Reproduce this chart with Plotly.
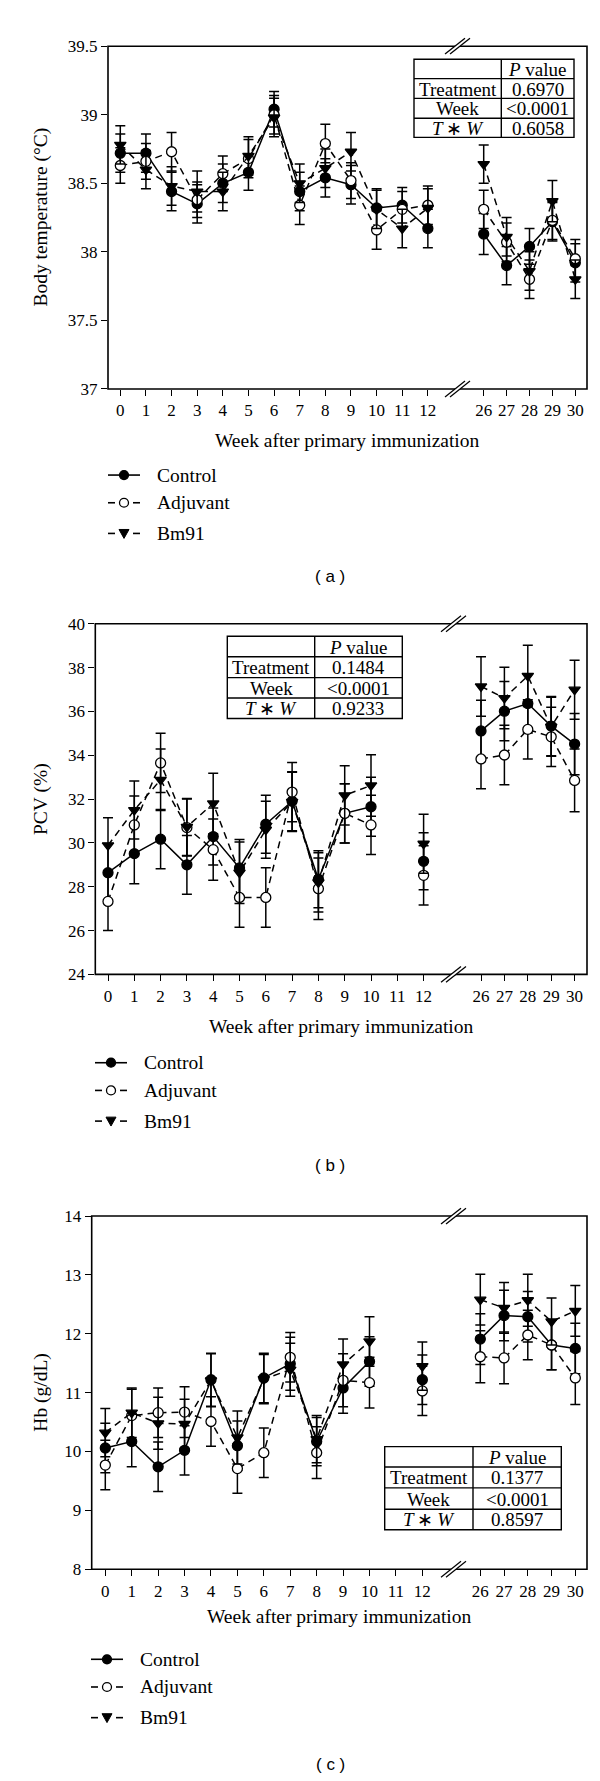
import plotly.graph_objects as go

W, H = 600, 1781
SERIF = 'Liberation Serif'
SANS = 'Liberation Sans'

# 数据：周次（0-12 周 + 26-30 周，中间断轴）
WEEKS = [0, 1, 2, 3, 4, 5, 6, 7, 8, 9, 10, 11, 12, 26, 27, 28, 29, 30]
X_TICKS_EARLY = [0, 1, 2, 3, 4, 5, 6, 7, 8, 9, 10, 11, 12]
X_TICKS_LATE = [26, 27, 28, 29, 30]

# (a) 体温
TEMP_CONTROL = [38.72, 38.72, 38.44, 38.35, 38.50, 38.58, 39.04, 38.44, 38.54, 38.49, 38.32, 38.34, 38.17,
                38.13, 37.90, 38.04, 38.22, 37.92]
TEMP_ADJUVANT = [38.63, 38.66, 38.73, 38.38, 38.57, 38.68, 39.00, 38.34, 38.79, 38.52, 38.16, 38.31, 38.34,
                 38.31, 38.07, 37.80, 38.23, 37.95]
TEMP_BM91 = [38.78, 38.60, 38.48, 38.44, 38.44, 38.70, 38.98, 38.50, 38.61, 38.73, 38.31, 38.17, 38.32,
             38.64, 38.11, 37.86, 38.37, 37.80]
TEMP_CONTROL_SE = [0.14, 0.14, 0.14, 0.14, 0.14, 0.13, 0.13, 0.14, 0.14, 0.14, 0.14, 0.13, 0.14,
                   0.15, 0.14, 0.13, 0.14, 0.14]
TEMP_ADJUVANT_SE = [0.13, 0.13, 0.14, 0.13, 0.13, 0.14, 0.14, 0.14, 0.14, 0.13, 0.14, 0.13, 0.14,
                    0.14, 0.14, 0.14, 0.14, 0.14]
TEMP_BM91_SE = [0.14, 0.14, 0.14, 0.15, 0.14, 0.14, 0.14, 0.14, 0.14, 0.14, 0.14, 0.14, 0.14,
                0.14, 0.14, 0.14, 0.15, 0.14]

# (b) PCV
PCV_CONTROL = [28.64, 29.51, 30.17, 29.00, 30.29, 28.86, 30.85, 31.90, 28.34, 31.35, 31.65, None, 29.16,
               35.11, 36.01, 36.36, 35.33, 34.51]
PCV_ADJUVANT = [27.33, 30.82, 33.65, 30.70, 29.69, 27.51, 27.51, 32.32, 27.91, 31.35, 30.82, None, 28.52,
                33.83, 34.01, 35.18, 34.84, 32.85]
PCV_BM91 = [29.89, 31.50, 32.88, 30.73, 31.80, 28.64, 30.60, 31.87, 28.20, 32.17, 32.62, None, 29.96,
            37.14, 36.61, 37.62, 35.30, 36.99]
PCV_CONTROL_SE = [1.30, 1.37, 1.35, 1.34, 1.30, 1.30, 1.32, 1.35, 1.30, 1.35, 1.35, None, 1.30,
                  1.40, 1.35, 1.35, 1.35, 1.40]
PCV_ADJUVANT_SE = [1.33, 1.32, 1.35, 1.30, 1.40, 1.36, 1.36, 1.35, 1.40, 1.35, 1.35, None, 1.35,
                   1.36, 1.36, 1.35, 1.35, 1.43]
PCV_BM91_SE = [1.26, 1.32, 1.40, 1.30, 1.38, 1.40, 1.30, 1.35, 1.35, 1.35, 1.40, None, 1.35,
               1.36, 1.40, 1.40, 1.35, 1.35]

# (c) Hb
HB_CONTROL = [10.06, 10.17, 9.74, 10.02, 11.22, 10.10, 11.25, 11.49, 10.17, 11.08, 11.53, None, 11.22,
              11.91, 12.31, 12.29, 11.81, 11.75]
HB_ADJUVANT = [9.77, 10.61, 10.66, 10.67, 10.51, 9.71, 9.98, 11.60, 9.98, 11.21, 11.17, None, 11.03,
               11.61, 11.59, 11.98, 11.81, 11.25]
HB_BM91 = [10.32, 10.66, 10.48, 10.47, 11.21, 10.24, 11.23, 11.39, 10.21, 11.48, 11.87, None, 11.45,
           12.58, 12.44, 12.57, 12.21, 12.39]
HB_CONTROL_SE = [0.42, 0.43, 0.42, 0.42, 0.45, 0.42, 0.42, 0.45, 0.41, 0.43, 0.42, None, 0.42,
                 0.43, 0.43, 0.43, 0.42, 0.43]
HB_ADJUVANT_SE = [0.42, 0.45, 0.42, 0.43, 0.42, 0.42, 0.42, 0.42, 0.44, 0.45, 0.43, None, 0.42,
                  0.44, 0.44, 0.42, 0.42, 0.45]
HB_BM91_SE = [0.41, 0.42, 0.44, 0.42, 0.45, 0.45, 0.42, 0.45, 0.40, 0.43, 0.42, None, 0.41,
              0.43, 0.43, 0.44, 0.40, 0.43]

TEMP_Y_TICKS = [37, 37.5, 38, 38.5, 39, 39.5]
TEMP_Y_LABELS = ['37', '37.5', '38', '38.5', '39', '39.5']
PCV_Y_TICKS = [24, 26, 28, 30, 32, 34, 36, 38, 40]
HB_Y_TICKS = [8, 9, 10, 11, 12, 13, 14]

TABLE_ROWS = ['Treatment', 'Week', '<i>T</i>\u2009∗\u2009<i>W</i>']
TEMP_P = ['0.6970', '&lt;0.0001', '0.6058']
PCV_P = ['0.1484', '&lt;0.0001', '0.9233']
HB_P = ['0.1377', '&lt;0.0001', '0.8597']

GROUPS = ['Control', 'Adjuvant', 'Bm91']
DASH = '7px,5px'
STYLES = {
    'Control': dict(dash='solid', symbol='circle', fill='black'),
    'Adjuvant': dict(dash=DASH, symbol='circle', fill='white'),
    'Bm91': dict(dash=DASH, symbol='triangle-down', fill='black'),
}


def px_x(p):
    return p / W


def px_y(p):
    return 1 - p / H


def axis_range(a, b, v0, p0, step):
    return [v0 + (a - p0) / step, v0 + (b - p0) / step]


def paper_text(text, x, y, size, family=SERIF, xanchor='center', angle=0):
    return dict(text=text, x=px_x(x), y=px_y(y), xref='paper', yref='paper', showarrow=False,
                xanchor=xanchor, yanchor='middle', textangle=angle,
                font=dict(family=family, size=size, color='black'))


def paper_line(x0, y0, x1, y1, width=1.3):
    return dict(type='line', xref='paper', yref='paper', x0=px_x(x0), y0=px_y(y0),
                x1=px_x(x1), y1=px_y(y1), line=dict(color='black', width=width))


# 版面：每个子图的像素位置
PANELS = [
    dict(tag='( a )', ytitle='Body temperature (°C)',
         vals=[TEMP_CONTROL, TEMP_ADJUVANT, TEMP_BM91], se=[TEMP_CONTROL_SE, TEMP_ADJUVANT_SE, TEMP_BM91_SE],
         yrange=[37, 39.5], yticks=TEMP_Y_TICKS, ylabels=TEMP_Y_LABELS, pvals=TEMP_P,
         left=100, right=579, top=29.5, bottom=376, brk=449, early=(112.3, 25.63), late=(475.7, 22.9),
         table=(406, 493.3, 566, [42.7, 62.3, 82.3, 102.3, 121.7]),
         legend=(100, 463), xtitle_y=428, tag_y=566),
    dict(tag='( b )', ytitle='PCV (%)',
         vals=[PCV_CONTROL, PCV_ADJUVANT, PCV_BM91], se=[PCV_CONTROL_SE, PCV_ADJUVANT_SE, PCV_BM91_SE],
         yrange=[24, 40], yticks=PCV_Y_TICKS, ylabels=[str(v) for v in PCV_Y_TICKS], pvals=PCV_P,
         left=87.3, right=579, top=613.3, bottom=967.7, brk=445, early=(100, 26.3), late=(473, 23.4),
         table=(219.3, 306.7, 394.3, [626, 646.7, 667.7, 688.3, 709]),
         legend=(87, 1057), xtitle_y=1020, tag_y=1161),
    dict(tag='( c )', ytitle='Hb (g/dL)',
         vals=[HB_CONTROL, HB_ADJUVANT, HB_BM91], se=[HB_CONTROL_SE, HB_ADJUVANT_SE, HB_BM91_SE],
         yrange=[8, 14], yticks=HB_Y_TICKS, ylabels=[str(v) for v in HB_Y_TICKS], pvals=HB_P,
         left=83.7, right=579, top=1212, bottom=1569, brk=445, early=(97.3, 26.42), late=(472.3, 23.75),
         table=(376.7, 465, 553.3, [1445, 1465.7, 1486.7, 1508.3, 1529]),
         legend=(83, 1660), xtitle_y=1617, tag_y=1766),
]
LEGEND_STEPS = [0, 28, 59]

fig = go.Figure()
layout = {}
shapes = []
annotations = []

early_idx = [k for k, w in enumerate(WEEKS) if w <= 12]
late_idx = [k for k, w in enumerate(WEEKS) if w > 12]

for i, p in enumerate(PANELS):
    ny = i + 1
    nxe, nxl = 2 * i + 1, 2 * i + 2
    ya = 'y' if ny == 1 else f'y{ny}'
    xe = 'x' if nxe == 1 else f'x{nxe}'
    xl = f'x{nxl}'

    # 曲线
    for g, vals, se in zip(GROUPS, p['vals'], p['se']):
        st = STYLES[g]
        for idx, xa in ((early_idx, xe), (late_idx, xl)):
            fig.add_trace(go.Scatter(
                x=[WEEKS[k] for k in idx], y=[vals[k] for k in idx],
                error_y=dict(type='data', array=[se[k] if se[k] is not None else 0 for k in idx],
                             color='black', thickness=1.5, width=5),
                mode='lines+markers', name=g, showlegend=False,
                line=dict(color='black', width=1.5, dash=st['dash']),
                marker=dict(symbol=st['symbol'], size=10, color=st['fill'],
                            line=dict(color='black', width=1.3)),
                connectgaps=False, xaxis=xa, yaxis=ya, hoverinfo='skip',
            ))

    # 坐标轴
    common = dict(showgrid=False, zeroline=False, showline=False, ticks='outside', ticklen=6,
                  tickwidth=1.4, tickcolor='black', tickfont=dict(family=SERIF, size=17, color='black'),
                  fixedrange=True)
    layout['yaxis' if ny == 1 else f'yaxis{ny}'] = dict(
        domain=[px_y(p['bottom']), px_y(p['top'])], range=p['yrange'],
        tickvals=p['yticks'], ticktext=p['ylabels'], anchor=xe, **common)
    layout['xaxis' if nxe == 1 else f'xaxis{nxe}'] = dict(
        domain=[px_x(p['left']), px_x(p['brk'] - 2)],
        range=axis_range(p['left'], p['brk'] - 2, 0, *p['early']),
        tickvals=X_TICKS_EARLY, anchor=ya, **common)
    layout[f'xaxis{nxl}'] = dict(
        domain=[px_x(p['brk'] + 2), px_x(p['right'])],
        range=axis_range(p['brk'] + 2, p['right'], 26, *p['late']),
        tickvals=X_TICKS_LATE, anchor=ya, **common)

    # 外框 + 断轴符号
    shapes.append(dict(type='rect', xref='paper', yref='paper',
                       x0=px_x(p['left']), x1=px_x(p['right']), y0=px_y(p['bottom']), y1=px_y(p['top']),
                       line=dict(color='black', width=1.6)))
    b = p['brk']
    for yy in (p['top'], p['bottom']):
        shapes.append(dict(type='path', xref='paper', yref='paper',
                           path=(f"M {px_x(b - 12)},{px_y(yy + 8)} L {px_x(b + 8)},{px_y(yy - 8)} "
                                 f"L {px_x(b + 13)},{px_y(yy - 8)} L {px_x(b - 7)},{px_y(yy + 8)} Z"),
                           fillcolor='white', line=dict(width=0)))
        for off in (0, 5):
            shapes.append(paper_line(b - 12 + off, yy + 8, b + 8 + off, yy - 8))

    # P 值表
    tl, td, tr, rows = p['table']
    shapes.append(dict(type='rect', xref='paper', yref='paper',
                       x0=px_x(tl), x1=px_x(tr), y0=px_y(rows[-1]), y1=px_y(rows[0]),
                       line=dict(color='black', width=1.4)))
    for ry in rows[1:-1]:
        shapes.append(paper_line(tl, ry, tr, ry, width=1.4))
    shapes.append(paper_line(td, rows[0], td, rows[-1], width=1.4))
    cells = [('', '<i>P</i> value')] + list(zip(TABLE_ROWS, p['pvals']))
    for r, (c1, c2) in enumerate(cells):
        yc = (rows[r] + rows[r + 1]) / 2 + 0.5
        if c1:
            annotations.append(paper_text(c1, (tl + td) / 2, yc, 19))
        annotations.append(paper_text(c2, (td + tr) / 2, yc, 19))

    # 标题与标签
    annotations.append(paper_text(p['ytitle'], 33, (p['top'] + p['bottom']) / 2, 19.5, angle=-90))
    annotations.append(paper_text('Week after primary immunization', (p['left'] + p['right']) / 2,
                                  p['xtitle_y'], 19.5))
    annotations.append(paper_text(p['tag'], 322, p['tag_y'], 17, family=SANS))

    # 图例（手绘）
    lx, ly0 = p['legend']
    cx = lx + 16
    for g, step in zip(GROUPS, LEGEND_STEPS):
        ly = ly0 + step
        st = STYLES[g]
        if st['dash'] == 'solid':
            shapes.append(paper_line(lx, ly, lx + 32, ly, width=1.6))
        else:
            shapes.append(paper_line(lx, ly, lx + 7, ly, width=1.6))
            shapes.append(paper_line(lx + 25, ly, lx + 32, ly, width=1.6))
        if st['symbol'] == 'circle':
            shapes.append(dict(type='circle', xref='paper', yref='paper',
                               x0=px_x(cx - 4.5), x1=px_x(cx + 4.5), y0=px_y(ly + 4.5), y1=px_y(ly - 4.5),
                               fillcolor=st['fill'], line=dict(color='black', width=1.3)))
        else:
            shapes.append(dict(type='path', xref='paper', yref='paper',
                               path=(f"M {px_x(cx - 5)},{px_y(ly - 4)} L {px_x(cx + 5)},{px_y(ly - 4)} "
                                     f"L {px_x(cx)},{px_y(ly + 5)} Z"),
                               fillcolor='black', line=dict(color='black', width=1)))
        annotations.append(paper_text(g, lx + 47, ly, 19.5, xanchor='left'))

fig.update_layout(
    width=W, height=H,
    margin=dict(l=0, r=0, t=0, b=0),
    paper_bgcolor='white', plot_bgcolor='white',
    showlegend=False,
    shapes=shapes, annotations=annotations,
    **layout,
)

fig.write_html("out.html")
